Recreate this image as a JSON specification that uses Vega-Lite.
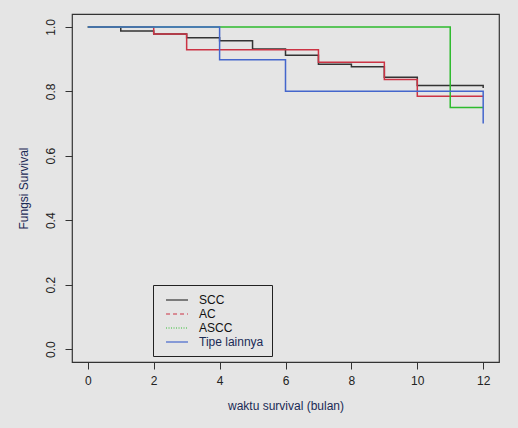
{
  "$schema": "https://vega.github.io/schema/vega-lite/v6.json",
  "width": 427,
  "height": 348,
  "autosize": {"type": "none"},
  "padding": {"left": 72, "top": 14, "right": 19, "bottom": 66},
  "background": "#e5e5e5",
  "config": {
    "view": {"stroke": "#333333", "strokeWidth": 1.2},
    "font": "Liberation Sans",
    "axis": {
      "grid": false,
      "domain": false,
      "tickColor": "#333333",
      "tickSize": 7,
      "labelFontSize": 12,
      "labelColor": "#222222",
      "labelFont": "Liberation Sans",
      "titleFont": "Liberation Sans",
      "titleFontSize": 12,
      "titleFontWeight": "normal",
      "titleColor": "#1a2a55"
    }
  },
  "data": {
    "values": [
      {"series": "SCC", "t": 0, "s": 1.0},
      {"series": "SCC", "t": 1, "s": 0.987},
      {"series": "SCC", "t": 2, "s": 0.978},
      {"series": "SCC", "t": 3, "s": 0.966},
      {"series": "SCC", "t": 4, "s": 0.957},
      {"series": "SCC", "t": 5, "s": 0.931},
      {"series": "SCC", "t": 6, "s": 0.912},
      {"series": "SCC", "t": 7, "s": 0.884},
      {"series": "SCC", "t": 8, "s": 0.876},
      {"series": "SCC", "t": 9, "s": 0.844},
      {"series": "SCC", "t": 10, "s": 0.818},
      {"series": "SCC", "t": 12, "s": 0.818},
      {"series": "SCC", "t": 12, "s": 0.81},
      {"series": "AC", "t": 0, "s": 1.0},
      {"series": "AC", "t": 2, "s": 0.978},
      {"series": "AC", "t": 3, "s": 0.929},
      {"series": "AC", "t": 7, "s": 0.89},
      {"series": "AC", "t": 9, "s": 0.837},
      {"series": "AC", "t": 10, "s": 0.785},
      {"series": "AC", "t": 12, "s": 0.785},
      {"series": "ASCC", "t": 0, "s": 1.0},
      {"series": "ASCC", "t": 11, "s": 0.75},
      {"series": "ASCC", "t": 12, "s": 0.75},
      {"series": "Tipe lainnya", "t": 0, "s": 1.0},
      {"series": "Tipe lainnya", "t": 4, "s": 0.898},
      {"series": "Tipe lainnya", "t": 6, "s": 0.8},
      {"series": "Tipe lainnya", "t": 12, "s": 0.8},
      {"series": "Tipe lainnya", "t": 12, "s": 0.7}
    ]
  },
  "mark": {"type": "line", "interpolate": "step-after", "strokeWidth": 1.5},
  "encoding": {
    "x": {
      "field": "t",
      "type": "quantitative",
      "scale": {"domain": [-0.48, 12.48], "nice": false, "zero": false},
      "axis": {
        "values": [0, 2, 4, 6, 8, 10, 12],
        "format": "d",
        "labelPadding": 6,
        "titlePadding": 14,
        "title": "waktu survival (bulan)"
      }
    },
    "y": {
      "field": "s",
      "type": "quantitative",
      "scale": {"domain": [-0.04, 1.04], "nice": false, "zero": false},
      "axis": {
        "values": [0, 0.2, 0.4, 0.6, 0.8, 1.0],
        "format": ".1f",
        "labelAngle": 270,
        "labelAlign": "center",
        "labelBaseline": "bottom",
        "labelPadding": 8,
        "titlePadding": 14,
        "title": "Fungsi Survival"
      }
    },
    "color": {
      "field": "series",
      "type": "nominal",
      "scale": {
        "domain": ["SCC", "AC", "ASCC", "Tipe lainnya"],
        "range": ["#333333", "#cc3344", "#2ebb2e", "#4466cc"]
      },
      "legend": {
        "title": null,
        "orient": "none",
        "legendX": 81,
        "legendY": 271,
        "padding": 8,
        "strokeColor": "#222222",
        "symbolType": "M-1.83,0H1.83",
        "symbolSize": 144,
        "symbolOffset": 9,
        "symbolStrokeWidth": 1.2,
        "labelOffset": 15,
        "labelFontSize": 12,
        "labelColor": "#111111",
        "rowPadding": 1,
        "encode": {
          "symbols": {
            "update": {
              "strokeDash": {"signal": "datum.value === 'AC' ? [4, 3] : datum.value === 'ASCC' ? [1, 1.5] : []"}
            }
          },
          "labels": {
            "update": {
              "fill": {"signal": "datum.value === 'Tipe lainnya' ? '#1a2a55' : '#111111'"}
            }
          }
        }
      }
    },
    "order": {"value": null}
  }
}
